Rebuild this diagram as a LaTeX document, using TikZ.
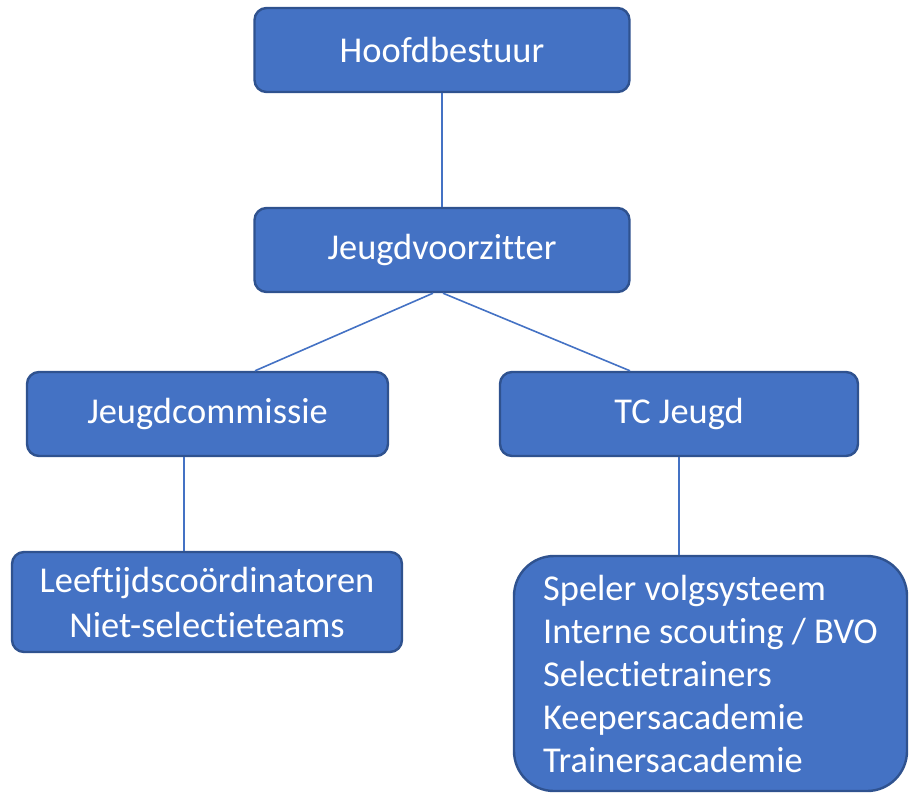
\documentclass[tikz,border=0pt]{standalone}
\usepackage{fontspec}
\setmainfont{Carlito}[Ligatures=NoCommon]
\usepackage{tikz}
\usetikzlibrary{positioning,calc}

\definecolor{boxfill}{HTML}{4472C4}
\definecolor{boxline}{HTML}{2F528F}

\tikzset{
  orgbox/.style={draw=boxline, line width=1.2pt, fill=boxfill, text=white,
                 rounded corners=6pt, align=center, inner sep=0pt,
                 font=\fontsize{18.2}{22.5}\selectfont},
  link/.style={draw=boxfill, line width=0.8pt}
}

\begin{document}
\begin{tikzpicture}[x=0.5pt, y=-0.5pt]
  \useasboundingbox (0,0) rectangle (909,793);

  % top levels
  \node[orgbox, minimum width=187.5pt, minimum height=42pt] (hoofd) at (442,50) {Hoofdbestuur};
  \node[orgbox, minimum width=187.5pt, minimum height=42pt] (voorz) at (442,250) {Jeugdvoorzitter};

  % commissions
  \node[orgbox, minimum width=180.5pt, minimum height=42pt] (jcom) at (207.5,414) {Jeugdcommissie};
  \node[orgbox, minimum width=179pt, minimum height=42pt] (tc) at (679,414) {TC Jeugd};

  % tasks
  \node[orgbox, minimum width=195pt, minimum height=50pt] (leeft) at (207,602)
    {Leeftijdscoördinatoren\\Niet-selectieteams};
  \node[orgbox, rounded corners=20pt, align=left, font=\fontsize{18.2}{21.5}\selectfont,
        minimum width=196.5pt, minimum height=117.5pt] (tcsub) at (710.5,673.5)
    {Speler volgsysteem\\Interne scouting / BVO\\Selectietrainers\\Keepersacademie\\Trainersacademie};

  % connectors
  \draw[link] (hoofd.south) -- (voorz.north);
  \draw[link] ([xshift=-4.5pt]voorz.south) -- ([xshift=23.75pt]jcom.north);
  \draw[link] ([xshift=0.5pt]voorz.south) -- ([xshift=-24.5pt]tc.north);
  \draw[link] ([xshift=-11.75pt]jcom.south) -- ([xshift=-11.5pt]leeft.north);
  \draw[link] (tc.south) -- (tc.south |- tcsub.north);
\end{tikzpicture}
\end{document}
